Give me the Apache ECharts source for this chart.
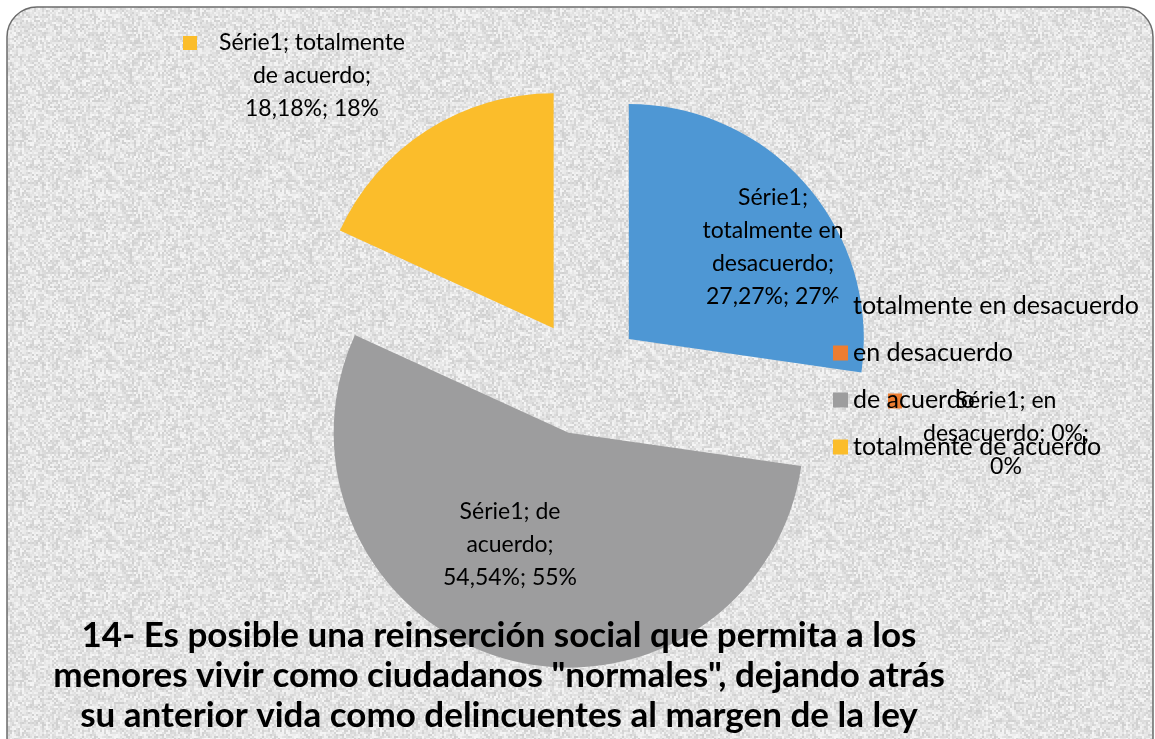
<!DOCTYPE html>
<html lang="es">
<head>
    <meta charset="UTF-8">
    <title>Reinserción social</title>
    <script src="https://cdn.jsdelivr.net/npm/echarts@6/dist/echarts.min.js"></script>
    <style>
        html, body { margin: 0; padding: 0; background: #fff; }
        #chart1 { width: 1155px; height: 739px; }
    </style>
</head>
<body>
<div id="chart1"></div>
<script>
    // datos del gráfico
    var categorias = ['totalmente en desacuerdo', 'en desacuerdo', 'de acuerdo', 'totalmente de acuerdo'];
    var porcentajes = [27.27, 0, 54.54, 18.18];
    var redondeados = ['27%', '0%', '55%', '18%'];
    var serie = 'Série1';
    var colores = ['#4e97d4', '#ed7d31', '#9d9d9e', '#fbbd2b'];
    var titulo = '14- Es posible una reinserción social que permita a los\nmenores vivir como ciudadanos "normales", dejando atrás\nsu anterior vida como delincuentes al margen de la ley';

    // textura del fondo (ruido fijo, solo decorativo)
    function textura() {
        var n = 180;
        var c = document.createElement('canvas');
        c.width = n; c.height = n;
        var ctx = c.getContext('2d');
        var img = ctx.createImageData(n, n);
        var s = 12345;
        var celdas = [];
        for (var i = 0; i < (n / 2) * (n / 2); i++) {
            s = (s * 1103515245 + 12345) & 0x7fffffff;
            celdas.push(227 + ((s >> 8) % 40) - 20);
        }
        for (var y = 0; y < n; y++) {
            for (var x = 0; x < n; x++) {
                var v = celdas[(y >> 1) * (n / 2) + (x >> 1)];
                var k = (y * n + x) * 4;
                img.data[k] = v;
                img.data[k + 1] = v;
                img.data[k + 2] = v;
                img.data[k + 3] = 255;
            }
        }
        ctx.putImageData(img, 0, 0);
        return c;
    }

    function fmtNum(v) {
        return v.toFixed(2).replace('.', ',') + '%';
    }

    // texto de cada etiqueta
    function etiqueta(i) {
        if (i == 0) return serie + ';\ntotalmente en\ndesacuerdo;\n' + fmtNum(porcentajes[i]) + '; ' + redondeados[i];
        if (i == 1) return '{k1|}{g|}{t|' + serie + '; en}\n{sp|}{t|desacuerdo; 0%;}\n{sp|}{t|' + redondeados[i] + '}';
        if (i == 2) return serie + '; de\nacuerdo;\n' + fmtNum(porcentajes[i]) + '; ' + redondeados[i];
        return '{k3|}{g|}{t2|' + serie + '; totalmente}\n{sp|}{t2|de acuerdo;}\n{sp|}{t2|' + fmtNum(porcentajes[i]) + '; ' + redondeados[i] + '}';
    }

    // posiciones de las etiquetas (como en el original)
    var posEtiquetas = [[773, 247], [888, 434], [510, 545], [183, 76]];

    var myChart1 = echarts.init(document.getElementById('chart1'));
    myChart1.setOption({
        animation: false,
        textStyle: {fontFamily: 'Lato'},
        graphic: [{
            type: 'rect',
            z: -10,
            shape: {x: 7, y: 7, width: 1146, height: 760, r: 30},
            style: {fill: {image: textura(), repeat: 'repeat'}, stroke: '#6b6b6b', lineWidth: 1.5}
        }],
        title: {
            text: titulo,
            left: 494,
            top: 611,
            textAlign: 'center',
            textStyle: {fontSize: 35, fontWeight: 'bold', lineHeight: 40, color: '#000', fontFamily: 'Lato'}
        },
        legend: {
            orient: 'vertical',
            left: 828,
            top: 288,
            itemWidth: 15,
            itemHeight: 15,
            itemGap: 21,
            icon: 'rect',
            selectedMode: false,
            data: categorias,
            textStyle: {fontSize: 25, lineHeight: 26, color: '#000'}
        },
        series: [{
            // sectores separados
            type: 'pie',
            center: [585, 377],
            radius: 235,
            startAngle: 90,
            clockwise: true,
            selectedMode: 'multiple',
            selectedOffset: 58,
            label: {show: false},
            labelLine: {show: false},
            data: categorias.map(function (c, i) {
                return {name: c, value: porcentajes[i], selected: true, itemStyle: {color: colores[i]}};
            })
        }, {
            // etiquetas de datos
            type: 'pie',
            center: [585, 377],
            radius: 235,
            startAngle: 90,
            clockwise: true,
            silent: true,
            z: 3,
            legendHoverLink: false,
            avoidLabelOverlap: false,
            itemStyle: {color: 'rgba(0,0,0,0)'},
            labelLine: {show: false},
            data: categorias.map(function (c, i) {
                return {name: c, value: porcentajes[i]};
            }),
            label: {
                show: true,
                position: 'inside',
                color: '#000',
                fontSize: 23,
                lineHeight: 33,
                align: 'center',
                formatter: function (p) { return etiqueta(p.dataIndex); },
                rich: {
                    t: {fontSize: 23, lineHeight: 33, width: 192, align: 'center', color: '#000'},
                    t2: {fontSize: 23, lineHeight: 33, width: 214, align: 'center', color: '#000'},
                    sp: {width: 22},
                    g: {width: 8},
                    k1: {width: 14, height: 15, backgroundColor: colores[1]},
                    k3: {width: 14, height: 14, backgroundColor: colores[3]}
                }
            },
            labelLayout: function (p) {
                var q = posEtiquetas[p.dataIndex];
                return {
                    x: q[0],
                    y: q[1],
                    align: (p.dataIndex == 1 || p.dataIndex == 3) ? 'left' : 'center',
                    verticalAlign: 'middle'
                };
            }
        }]
    });
</script>
</body>
</html>
